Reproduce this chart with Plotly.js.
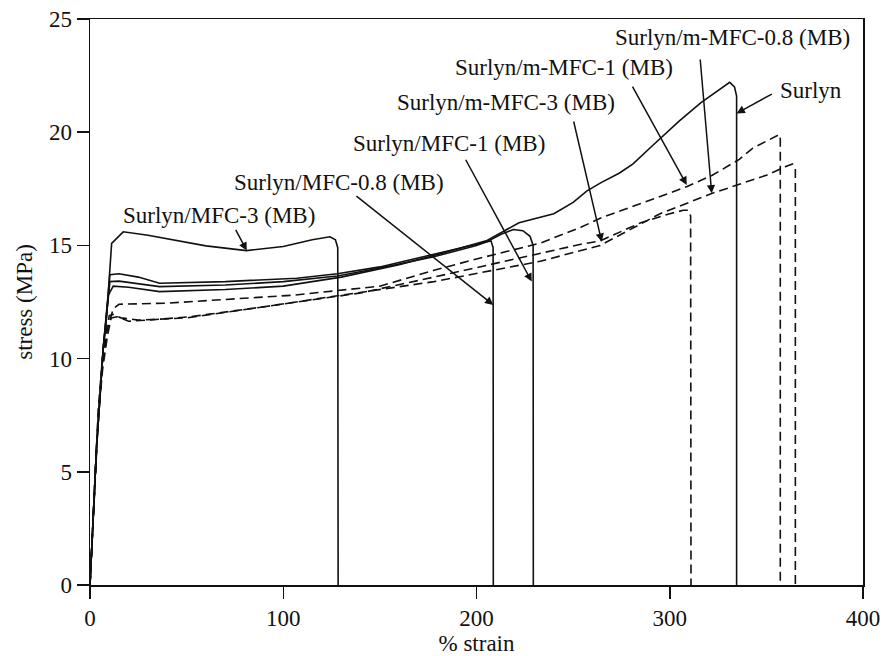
<!DOCTYPE html>
<html>
<head>
<meta charset="utf-8">
<script src="https://cdn.plot.ly/plotly-3.0.1.min.js"></script>
<style>html,body{margin:0;padding:0;background:#fff;}#chart{width:885px;height:656px;}</style>
</head>
<body>
<div id="chart"></div>
<script>
// ---- data ----
const surlynX = [0, 3.4, 6.9, 9.5, 12, 20, 36, 70, 100, 130, 160, 178, 205, 216, 222, 240, 250, 257, 264, 274, 281, 291, 305, 316, 328, 331, 333.5, 334.6, 334.6];
const surlynY = [0, 6.1, 10.5, 12.8, 13.2, 13.15, 12.96, 13.05, 13.2, 13.6, 14.15, 14.55, 15.2, 15.7, 16.0, 16.4, 16.9, 17.4, 17.75, 18.2, 18.6, 19.4, 20.5, 21.3, 22.05, 22.2, 22.0, 21.6, 0];

const mfc1X = [0, 3.4, 6.9, 10.3, 15, 25, 36, 70, 107, 128, 150, 178, 205, 213, 219, 224, 227.7, 229.3, 229.4];
const mfc1Y = [0, 6.1, 10.5, 13.7, 13.75, 13.6, 13.33, 13.4, 13.55, 13.75, 14.05, 14.6, 15.15, 15.5, 15.7, 15.65, 15.4, 15.0, 0];

const mfc08X = [0, 3.4, 6.9, 10.3, 15, 25, 36, 70, 100, 128, 150, 178, 200, 205, 207.5, 208.6, 208.7];
const mfc08Y = [0, 6.1, 10.5, 13.4, 13.42, 13.3, 13.18, 13.25, 13.4, 13.65, 14.0, 14.5, 15.0, 15.15, 15.2, 14.9, 0];

const mfc3X = [0, 3.4, 6.9, 8.6, 11.2, 17.2, 30, 45, 60, 81, 100, 115, 124.2, 127, 128.2, 128.4];
const mfc3Y = [0, 6.1, 10.5, 11.85, 15.09, 15.6, 15.45, 15.2, 14.98, 14.77, 14.95, 15.25, 15.38, 15.25, 14.9, 0];

const mmfc1X = [0, 2.5, 4.3, 6.5, 9, 12, 15, 40, 70, 105, 150, 178, 200, 233, 254, 264, 290, 309, 322, 336, 343, 350, 355, 356.8, 357.2, 357.2];
const mmfc1Y = [0, 4.5, 7.6, 9.8, 11.3, 12.2, 12.4, 12.45, 12.6, 12.8, 13.2, 13.9, 14.4, 15.1, 15.8, 16.2, 17.0, 17.6, 18.1, 18.8, 19.3, 19.6, 19.85, 19.9, 19.7, 0];

const mmfc08X = [0, 2.5, 4.3, 6.5, 9, 11, 14, 20, 30, 52, 91, 130, 178, 233, 264, 295, 322, 336, 350, 360, 363.5, 365, 365];
const mmfc08Y = [0, 4.3, 7.4, 9.5, 11.0, 11.8, 11.85, 11.65, 11.7, 11.85, 12.3, 12.8, 13.4, 14.3, 15.0, 16.4, 17.3, 17.7, 18.1, 18.48, 18.6, 18.4, 0];

const mmfc3X = [0, 2.5, 4.3, 6.5, 8.5, 10, 12, 16, 25, 50, 100, 140, 178, 233, 254, 264, 285, 300, 307, 309.6, 310.8, 311];
const mmfc3Y = [0, 4.5, 7.8, 10.1, 11.3, 11.9, 11.95, 11.8, 11.7, 11.8, 12.4, 12.9, 13.6, 14.65, 15.05, 15.2, 16.0, 16.4, 16.55, 16.55, 16.3, 0];

const labels = ["Surlyn/MFC-3 (MB)", "Surlyn/MFC-0.8 (MB)", "Surlyn/MFC-1 (MB)", "Surlyn/m-MFC-3 (MB)", "Surlyn/m-MFC-1 (MB)", "Surlyn/m-MFC-0.8 (MB)", "Surlyn"];
// arrow tips (on curves)
const tipX = [81.1, 208.7, 228.6, 264.8, 308.8, 321.7, 334.6];
const tipY = [14.77, 12.37, 13.4, 15.16, 17.67, 17.3, 20.83];
const xTicks = [0, 100, 200, 300, 400];
const yTicks = [0, 5, 10, 15, 20, 25];

// ---- layout constants ----
const arrowStart = [[75.0, 15.75], [137.1, 17.23], [194.0, 18.85], [250.1, 20.54], [280.3, 22.08], [315.7, 23.28], [353.6, 21.72]];
const textPos = [[66.8, 16.3], [129.1, 17.8], [185.8, 19.52], [215.3, 21.29], [245.3, 22.88], [332.7, 24.2], [373.1, 21.86]];

const FONT = "Liberation Serif, Times New Roman, serif";
const solid = {color: "#111", width: 1.6};
const dashed = {color: "#111", width: 1.6, dash: "9px,5px"};

function tr(x, y, line, name) {
  return {x: x, y: y, type: "scatter", mode: "lines", line: line, name: name, hoverinfo: "skip"};
}

const traces = [
  tr(mmfc1X, mmfc1Y, dashed, "Surlyn/m-MFC-1 (MB)"),
  tr(mmfc08X, mmfc08Y, dashed, "Surlyn/m-MFC-0.8 (MB)"),
  tr(mmfc3X, mmfc3Y, dashed, "Surlyn/m-MFC-3 (MB)"),
  tr(surlynX, surlynY, solid, "Surlyn"),
  tr(mfc1X, mfc1Y, solid, "Surlyn/MFC-1 (MB)"),
  tr(mfc08X, mfc08Y, solid, "Surlyn/MFC-0.8 (MB)"),
  tr(mfc3X, mfc3Y, solid, "Surlyn/MFC-3 (MB)")
];

const annotations = [];
labels.forEach(function (lab, i) {
  annotations.push({
    x: tipX[i], y: tipY[i], xref: "x", yref: "y",
    ax: arrowStart[i][0], ay: arrowStart[i][1], axref: "x", ayref: "y",
    text: "", showarrow: true, arrowhead: 2, arrowsize: 1.1, arrowwidth: 1.5,
    arrowcolor: "#111", standoff: 0, startstandoff: 0
  });
  annotations.push({
    x: textPos[i][0], y: textPos[i][1], xref: "x", yref: "y",
    text: lab, showarrow: false, xanchor: "center", yanchor: "middle",
    font: {family: FONT, size: 23, color: "#111"}
  });
});

const axisCommon = {
  showgrid: false, zeroline: false, showline: true, mirror: true,
  linecolor: "#111", linewidth: 1.5, ticks: "outside", ticklen: 12,
  tickwidth: 1.5, tickcolor: "#111",
  tickfont: {family: FONT, size: 23, color: "#111"}
};

const layout = {
  width: 885, height: 656,
  margin: {l: 90, r: 22, t: 19, b: 71, pad: 0},
  paper_bgcolor: "#fff", plot_bgcolor: "#fff",
  showlegend: false,
  xaxis: Object.assign({}, axisCommon, {
    range: [0, 400], tickvals: xTicks, ticktext: xTicks.map(String),
    title: {text: "% strain", font: {family: FONT, size: 23, color: "#111"}, standoff: 8}
  }),
  yaxis: Object.assign({}, axisCommon, {
    range: [0, 25], tickvals: yTicks, ticktext: yTicks.map(String),
    title: {text: "stress (MPa)", font: {family: FONT, size: 23, color: "#111"}, standoff: 10}
  }),
  annotations: annotations
};

Plotly.newPlot("chart", traces, layout, {staticPlot: true, displayModeBar: false});
</script>
</body>
</html>
